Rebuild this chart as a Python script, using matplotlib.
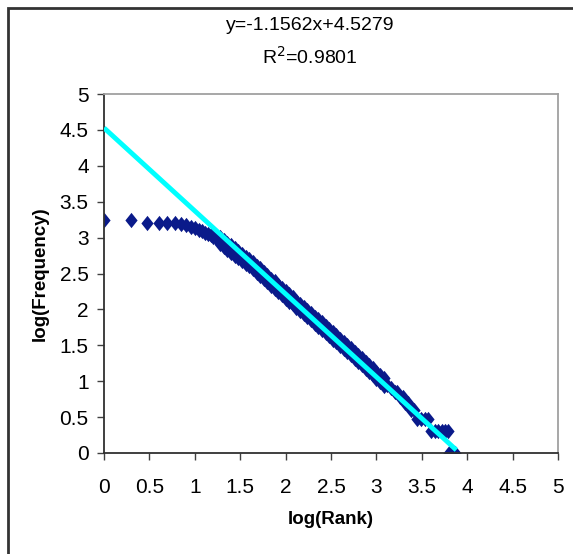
import numpy as np
import matplotlib
matplotlib.use("Agg")
import matplotlib.pyplot as plt
from matplotlib.patches import Rectangle

plt.rcParams['font.family'] = ['Liberation Sans', 'DejaVu Sans']

# log10(rank) / log10(frequency)
# head of the list: single points
head_rank = [0.000, 0.301, 0.477, 0.602, 0.699, 0.778, 0.845, 0.903, 0.954, 1.000,
             1.041, 1.079, 1.114, 1.146, 1.176, 1.204, 1.230, 1.255]
head_freq = [3.24, 3.24, 3.21, 3.21, 3.21, 3.20, 3.19, 3.17, 3.15, 3.13,
             3.11, 3.09, 3.07, 3.05, 3.03, 3.01, 2.99, 2.97]

# middle of the list: upper and lower edge of the band of points
body_rank = [1.28, 1.32, 1.36, 1.40, 1.44, 1.48, 1.52, 1.56, 1.60, 1.64,
             1.68, 1.72, 1.76, 1.80, 1.84, 1.88, 1.92, 1.96, 2.00, 2.04,
             2.08, 2.12, 2.16, 2.20, 2.24, 2.28, 2.32, 2.36, 2.40, 2.44,
             2.48, 2.52, 2.56, 2.60, 2.64, 2.68, 2.72, 2.76, 2.80, 2.84,
             2.88, 2.92, 2.96, 3.00, 3.04, 3.08]
body_upper = [3.01, 2.97, 2.93, 2.89, 2.85, 2.81, 2.77, 2.73, 2.70, 2.66,
              2.61, 2.57, 2.52, 2.48, 2.43, 2.39, 2.34, 2.30, 2.25, 2.21,
              2.17, 2.12, 2.08, 2.04, 1.99, 1.95, 1.90, 1.86, 1.82, 1.77,
              1.73, 1.68, 1.64, 1.59, 1.55, 1.50, 1.46, 1.41, 1.37, 1.32,
              1.27, 1.23, 1.18, 1.13, 1.09, 1.04]
body_lower = [2.91, 2.87, 2.83, 2.79, 2.75, 2.71, 2.67, 2.63, 2.60, 2.56,
              2.51, 2.47, 2.42, 2.38, 2.33, 2.29, 2.24, 2.20, 2.15, 2.11,
              2.07, 2.02, 1.98, 1.94, 1.89, 1.85, 1.80, 1.76, 1.72, 1.67,
              1.63, 1.58, 1.54, 1.49, 1.45, 1.40, 1.36, 1.31, 1.27, 1.22,
              1.17, 1.13, 1.08, 1.03, 0.99, 0.94]

# tail: runs of equal low frequencies
tail_rank = [3.12, 3.16, 3.20, 3.23, 3.26, 3.29, 3.32, 3.35, 3.38, 3.41,
             3.45, 3.49, 3.53, 3.57, 3.60, 3.64, 3.68, 3.72, 3.76, 3.79,
             3.80, 3.83, 3.85, 3.87]
tail_freq = [0.954, 0.903, 0.845, 0.845, 0.778, 0.778, 0.699, 0.699, 0.602, 0.602,
             0.477, 0.477, 0.477, 0.477, 0.301, 0.301, 0.301, 0.301, 0.301, 0.301,
             0.0, 0.0, 0.0, 0.0]

slope = -1.1562
intercept = 4.5279
r2 = 0.9801
fit_x = [0.0, 3.88]

ticks = [0, 0.5, 1, 1.5, 2, 2.5, 3, 3.5, 4, 4.5, 5]
tick_labels = ['0', '0.5', '1', '1.5', '2', '2.5', '3', '3.5', '4', '4.5', '5']

log_rank = head_rank + body_rank + body_rank + tail_rank
log_freq = head_freq + body_upper + body_lower + tail_freq

# excel style diamond, a bit taller than wide
diamond = [(0, 1), (0.8, 0), (0, -1), (-0.8, 0), (0, 1)]

fig = plt.figure(figsize=(5.73, 5.54), dpi=100)
ax = fig.add_axes([104/573, 101/554, 454/573, 359/554])

ax.plot(log_rank, log_freq, linestyle='none', marker=diamond, markersize=11,
        color='#0a1a8a', markeredgewidth=0, zorder=2)
fx = np.array(fit_x)
ax.plot(fx, slope*fx + intercept, color='#00ffff', linewidth=3.5, zorder=3,
        solid_capstyle='butt')

ax.set_xlim(0, 5)
ax.set_ylim(0, 5)
ax.set_xticks(ticks)
ax.set_xticklabels(tick_labels)
ax.set_yticks(ticks)
ax.set_yticklabels(tick_labels)
ax.tick_params(direction='out', length=5, width=1, color='#404040',
               labelsize=15)
ax.tick_params(axis='x', pad=13)
ax.tick_params(axis='y', pad=6)
for s in ['left', 'bottom']:
    ax.spines[s].set_color('#303030')
    ax.spines[s].set_linewidth(1.3)
for s in ['top', 'right']:
    ax.spines[s].set_color('#a0a0a0')
    ax.spines[s].set_linewidth(1.3)

ax.set_xlabel('log(Rank)', fontsize=13.5, fontweight='bold', labelpad=10)
ax.set_ylabel('log(Frequency)', fontsize=13.5, fontweight='bold', labelpad=8)

fig.text(310/573, 1 - 25/554, 'y=-1.1562x+4.5279', ha='center', va='center',
         fontsize=14)
fig.text(310/573, 1 - 57/554, 'R$^2$=%.4f' % r2, ha='center', va='center',
         fontsize=14)

# outer chart border (only top and left are inside the picture)
fig.patches.append(Rectangle((8/573, -0.1), 1.2, 1 - 8/554 + 0.1,
                             transform=fig.transFigure, fill=False,
                             edgecolor='#333333', linewidth=2))

fig.savefig('out.png', dpi=100)
